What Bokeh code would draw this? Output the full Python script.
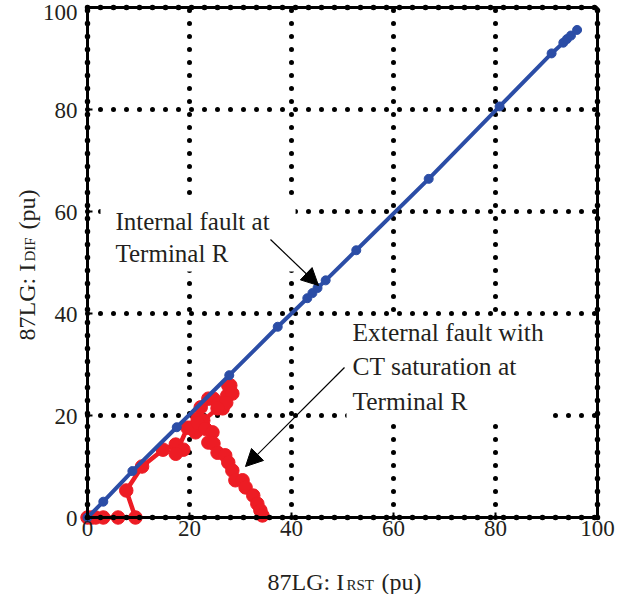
import math
from bokeh.plotting import figure
from bokeh.models import Label, Arrow, NormalHead, Range1d
from bokeh.core.properties import value
from bokeh.embed import file_html
from bokeh.resources import INLINE

# ---- data ----
ticks = [0, 20, 40, 60, 80, 100]
tick_labels = ["0", "20", "40", "60", "80", "100"]

internal_x = [0, 3.1, 8.8, 17.5, 27.8, 37.3, 43.1, 44.1, 45.1, 46.7, 52.7, 66.9, 80.8, 91.0, 93.3, 94.0, 94.8, 96.0]
internal_y = [0, 3.1, 9.1, 17.7, 27.9, 37.4, 43.0, 44.0, 45.0, 46.5, 52.4, 66.4, 80.6, 91.0, 93.1, 93.8, 94.5, 95.6]

external_x = [0, 0.8, 1.6, 3.1, 6.0, 9.4, 7.6, 10.7, 14.8, 17.3, 18.8, 17.3,
              19.6, 21.6, 22.2, 23.7, 24.7, 25.7, 26.5, 27.4, 28.0, 27.6, 28.4, 27.2,
              25.5, 22.7, 21.2, 20.2, 21.6, 23.1, 24.5, 23.7, 24.7, 25.5,
              27.0, 27.6, 28.4, 29.0, 30.4, 31.0, 32.5, 33.3, 33.9, 34.3]
external_y = [0, 0, 0, 0, 0, 0, 5.3, 10.0, 13.3, 14.3, 13.3, 12.5,
              17.6, 19.4, 21.6, 23.3, 23.3, 22.4, 21.4, 23.9, 25.9, 25.9, 24.3, 22.5,
              21.4, 19.0, 16.7, 17.6, 18.6, 17.4, 16.7, 14.7, 14.5, 12.7,
              12.2, 10.8, 9.2, 7.3, 7.3, 5.9, 4.3, 2.7, 1.4, 0.4]

BLUE = "#2B4DA6"
RED = "#ED1C24"
INK = "#231F20"
FONT = "Liberation Serif"

# ---- layout: the frame covers the whole canvas (canvas px == page px) ----
W, H = 616, 594
SX = 5.1      # px per unit, x
SY = 5.1      # px per unit, y
X0 = 87       # px of x = 0
Y100 = 7      # px of y = 100
xs = -X0 / SX
xe = xs + W / SX
ye = 100 + Y100 / SY
ys = ye - H / SY

def dx(px):   # page px -> data x
    return xs + px / SX
def dy(py):   # page px -> data y
    return ye - py / SY

p = figure(width=W, height=H, output_backend="svg", toolbar_location=None,
           x_range=Range1d(xs, xe), y_range=Range1d(ys, ye),
           x_axis_type=None, y_axis_type=None, min_border=0,
           background_fill_color="white", border_fill_color="white")
p.outline_line_color = None
p.xgrid.visible = False
p.ygrid.visible = False

lo, hi = ticks[0], ticks[-1]
n = len(ticks)

# dotted grid (including the frame lines)
p.segment(x0=ticks, y0=[lo] * n, x1=ticks, y1=[hi] * n,
          line_color="black", line_width=5, line_dash="0 13", line_cap="round")
p.segment(x0=[lo] * n, y0=ticks, x1=[hi] * n, y1=ticks,
          line_color="black", line_width=5, line_dash="0 13", line_cap="round")

# data
p.line(external_x, external_y, line_color=RED, line_width=4.5)
p.scatter(external_x, external_y, size=13.5, fill_color=RED, line_color=RED)
p.line(internal_x, internal_y, line_color=BLUE, line_width=4)
p.scatter(internal_x, internal_y, size=9, fill_color=BLUE, line_color=BLUE)

# frame: solid thick lines with dots on top
ends = [lo, hi]
p.segment(x0=ends, y0=[lo, lo], x1=ends, y1=[hi, hi], line_color="black", line_width=3)
p.segment(x0=[lo, lo], y0=ends, x1=[hi, hi], y1=ends, line_color="black", line_width=3)
p.segment(x0=ends, y0=[lo, lo], x1=ends, y1=[hi, hi],
          line_color="black", line_width=5.5, line_dash="0 13", line_cap="round")
p.segment(x0=[lo, lo], y0=ends, x1=[hi, hi], y1=ends,
          line_color="black", line_width=5.5, line_dash="0 13", line_cap="round")

# inward tick marks on all four sides
tl_x = 5 / SX
tl_y = 5 / SY
p.segment(x0=ticks, y0=[lo] * n, x1=ticks, y1=[lo + tl_y] * n, line_color="black", line_width=2)
p.segment(x0=ticks, y0=[hi] * n, x1=ticks, y1=[hi - tl_y] * n, line_color="black", line_width=2)
p.segment(x0=[lo] * n, y0=ticks, x1=[lo + tl_x] * n, y1=ticks, line_color="black", line_width=2)
p.segment(x0=[hi] * n, y0=ticks, x1=[hi - tl_x] * n, y1=ticks, line_color="black", line_width=2)

# tick labels (the top one is nudged down so it stays on the page)
y_label_offsets = [5 if t == hi else 1 for t in ticks]
p.text(x=ticks, y=[lo] * n, text=tick_labels, y_offset=3,
       text_align="center", text_baseline="top",
       text_font=value(FONT), text_font_size="23px", text_color=INK)
p.text(x=[lo] * n, y=ticks, text=tick_labels, x_offset=-10, y_offset=y_label_offsets,
       text_align="right", text_baseline="middle",
       text_font=value(FONT), text_font_size="23px", text_color=INK)

# annotations with white boxes
lab1 = Label(x=dx(100), y=dy(198), text="Internal fault at\nTerminal R",
             text_font=FONT, text_font_size="25px", text_color=INK,
             text_align="left", text_baseline="top", text_line_height=1.22,
             background_fill_color="white",
             padding=dict(left=15, right=26, top=9, bottom=4))
p.add_layout(lab1)
lab2 = Label(x=dx(346), y=dy(316), text="External fault with\nCT saturation at\nTerminal R",
             text_font=FONT, text_font_size="25.5px", text_color=INK,
             text_align="left", text_baseline="top", text_line_height=1.2,
             background_fill_color="white",
             padding=dict(left=6, right=6, top=1, bottom=2))
p.add_layout(lab2)

p.add_layout(Arrow(end=NormalHead(size=17, fill_color="black", line_color="black"),
                   x_start=dx(270), y_start=dy(239), x_end=dx(318), y_end=dy(285),
                   line_color="black", line_width=1.2))
p.add_layout(Arrow(end=NormalHead(size=17, fill_color="black", line_color="black"),
                   x_start=dx(344), y_start=dy(367), x_end=dx(245), y_end=dy(466),
                   line_color="black", line_width=1.2))

# axis titles with subscripts
def add_text(x, y, t, size, angle=0.0):
    p.add_layout(Label(x=x, y=y, text=t, text_font=FONT, text_font_size=size,
                       text_color=INK, text_align="left", text_baseline="alphabetic",
                       angle=angle))

XB = 581
add_text(dx(267), dy(XB), "87LG: I", "24px")
add_text(dx(346), dy(XB + 3), "RST", "15px")
add_text(dx(381), dy(XB), "(pu)", "24px")

YB = 340
YX = 26
add_text(dx(YX), dy(YB), "87LG: I", "24px", math.pi / 2)
add_text(dx(YX + 3), dy(YB - 79), "DIF", "15px", math.pi / 2)
add_text(dx(YX), dy(YB - 79 - 32), "(pu)", "24px", math.pi / 2)

open("out.html", "w").write(file_html(p, INLINE))
